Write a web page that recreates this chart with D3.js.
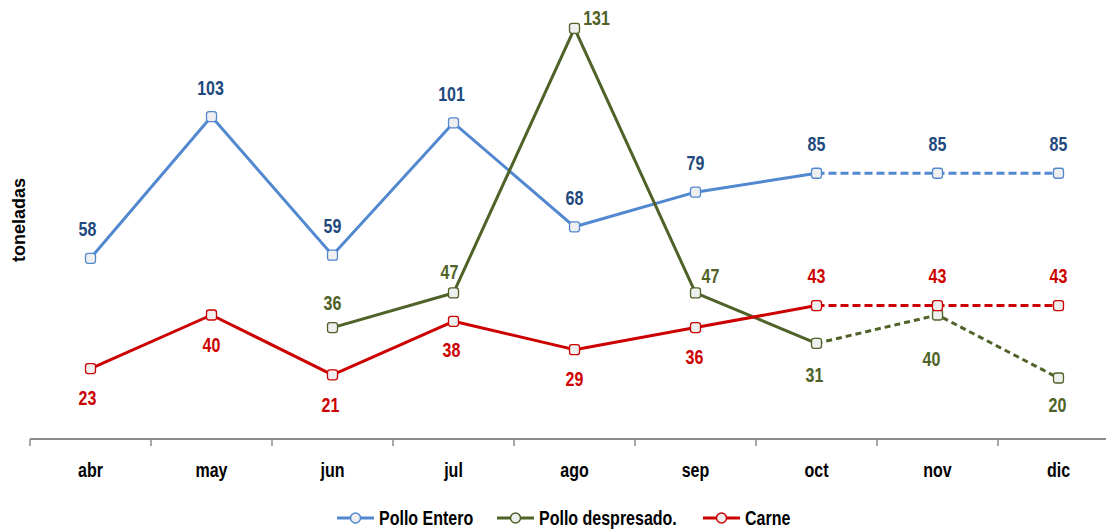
<!DOCTYPE html>
<html><head><meta charset="utf-8">
<script src="https://cdn.jsdelivr.net/npm/d3@7"></script>
<style>
body{margin:0;background:#fff;}
svg{display:block;}
.nar{font-family:"Liberation Sans","Arial",sans-serif;font-weight:bold;}
</style></head>
<body>
<svg id="c" width="1106" height="531"></svg>
<script>
const months = ["abr","may","jun","jul","ago","sep","oct","nov","dic"];
const polloEntero = [58,103,59,101,68,79,85,85,85];
const polloDespresado = [null,null,36,47,131,47,31,40,20];
const carne = [23,40,21,38,29,36,43,43,43];
const seriesNames = ["Pollo Entero","Pollo despresado.","Carne"];
const lineColors = ["#5288CF","#4F6228","#CC0000"];
const labelColors = ["#1F497D","#4F6228","#CC0000"];
const firstProjected = 6; // oct onward dashed
const labelOffsets = [
  [[-3,-29],[-1,-29],[0,-29],[-2,-29],[0,-29],[0,-29],[0,-29],[0,-29],[0,-29]],
  [null,null,[0,-25],[-4,-21],[22,-10],[15,-17],[-2,32],[-6,44],[-1,27]],
  [[-3,29],[0,30],[-2,30],[-2,29],[0,29],[-1,29],[0,-30],[0,-30],[0,-30]]
];

const svg = d3.select("#c");
const x = d3.scaleBand().domain(months).range([30, 30+9*121]).padding(0);
const y = d3.scaleLinear().domain([0,140]).range([441,0]);

function narrowText(sel, tx, ty, str, size, fill, anchor){
  return sel.append("text").attr("class","nar")
    .attr("transform",`translate(${tx},${ty}) scale(0.8,1)`)
    .attr("text-anchor",anchor||"middle").attr("dy","0.35em")
    .attr("font-size",size).attr("fill",fill).text(str);
}

// axis
const ax = svg.append("g").attr("transform","translate(0,439)");
ax.append("line").attr("x1",30).attr("x2",1106).attr("y1",0).attr("y2",0).attr("stroke","#8c8c8c").attr("stroke-width",2);
months.forEach(m=>{
  ax.append("line").attr("x1",x(m)).attr("x2",x(m)).attr("y1",0).attr("y2",7).attr("stroke","#8c8c8c").attr("stroke-width",1.5);
  narrowText(ax, x(m)+x.bandwidth()/2, 31, m, 20, "#000");
});

// y label
svg.append("text").attr("transform","translate(25,220) rotate(-90)").attr("text-anchor","middle")
  .attr("font-family","Liberation Sans, Arial, sans-serif").attr("font-weight","bold").attr("font-size",18).text("toneladas");

const all = [polloEntero, polloDespresado, carne];
const cx = i => x(months[i]) + x.bandwidth()/2;

all.forEach((vals, s)=>{
  const pts = vals.map((v,i)=>({i,v})).filter(d=>d.v!==null);
  const line = d3.line().x(d=>cx(d.i)).y(d=>y(d.v));
  const solid = pts.filter(d=>d.i<=firstProjected);
  const dash = pts.filter(d=>d.i>=firstProjected);
  svg.append("path").attr("d",line(solid)).attr("fill","none").attr("stroke",lineColors[s]).attr("stroke-width",3).attr("stroke-linejoin","round");
  svg.append("path").attr("d",line(dash)).attr("fill","none").attr("stroke",lineColors[s]).attr("stroke-width",3).attr("stroke-dasharray",s===1?"6,4":"8,4");
});
all.forEach((vals, s)=>{
  vals.forEach((v,i)=>{
    if(v===null) return;
    svg.append("rect").attr("x",cx(i)-5).attr("y",y(v)-5).attr("width",10).attr("height",10).attr("rx",2.5)
      .attr("fill","#EFEFEF").attr("stroke",lineColors[s]).attr("stroke-width",1.3);
    const o = labelOffsets[s][i];
    narrowText(svg, cx(i)+o[0], y(v)+o[1], v, 20, labelColors[s]);
  });
});

// legend
const legX = [337, 497, 703];
seriesNames.forEach((n,s)=>{
  const g = svg.append("g").attr("transform",`translate(${legX[s]},518)`);
  g.append("line").attr("x1",0).attr("x2",37).attr("y1",0).attr("y2",0).attr("stroke",lineColors[s]).attr("stroke-width",3);
  g.append("circle").attr("cx",18.5).attr("cy",0).attr("r",5).attr("fill","#EFEFEF").attr("stroke",lineColors[s]).attr("stroke-width",1.5);
  narrowText(g, 42, 0, n, 20, "#000", "start");
});
</script>
</body></html>
